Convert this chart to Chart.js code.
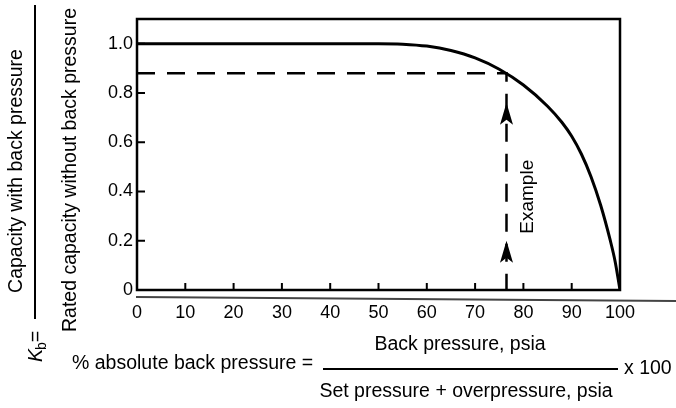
<!DOCTYPE html>
<html>
<head>
<meta charset="utf-8">
<script src="https://cdn.jsdelivr.net/npm/chart.js@4/dist/chart.umd.min.js"></script>
<style>
  html, body { margin: 0; padding: 0; background: #fff; }
  canvas { display: block; }
</style>
</head>
<body>
<canvas id="c" width="676" height="408"></canvas>
<script>
// ---- Data ----
const backPressurePct = [0, 10, 20, 30, 40, 50, 55, 60, 65, 70, 75, 80, 85, 88, 90, 92, 94, 96, 98, 99, 100];
const kbValues        = [1.0, 1.0, 1.0, 1.0, 1.0, 1.0, 0.998, 0.99, 0.972, 0.942, 0.896, 0.832, 0.746, 0.68, 0.624, 0.552, 0.46, 0.344, 0.2, 0.115, 0];
const xTickValues = [0, 10, 20, 30, 40, 50, 60, 70, 80, 90, 100];
const yTickValues = [0, 0.2, 0.4, 0.6, 0.8, 1.0];
const exampleX = 76.5;      // % absolute back pressure of the example
const exampleKb = 0.88;     // Kb read at the example
const arrowTips = [0.76, 0.2];  // Kb values where the arrowheads point
const yTitleTop = "Capacity with back pressure";
const yTitleBottom = "Rated capacity without back pressure";
const formulaLeft = "% absolute back pressure =";
const formulaNum = "Back pressure, psia";
const formulaDen = "Set pressure + overpressure, psia";
const formulaRight = "x 100";
const exampleLabel = "Example";

const FONT = '"Liberation Sans", Arial, Helvetica, sans-serif';

const decor = {
  id: 'decor',
  afterDraw(chart) {
    const ctx = chart.ctx;
    const a = chart.chartArea;
    const xs = chart.scales.x, ys = chart.scales.y;
    ctx.save();
    ctx.strokeStyle = '#000';
    ctx.fillStyle = '#000';

    // frame
    ctx.lineWidth = 2.5;
    ctx.strokeRect(a.left, a.top, a.right - a.left, a.bottom - a.top);

    // inward tick marks
    ctx.lineWidth = 2;
    ctx.beginPath();
    yTickValues.forEach(v => {
      const py = ys.getPixelForValue(v);
      ctx.moveTo(a.left, py); ctx.lineTo(a.left + 8, py);
    });
    xTickValues.forEach(v => {
      const px = xs.getPixelForValue(v);
      ctx.moveTo(px, a.bottom); ctx.lineTo(px, a.bottom - 7);
    });
    ctx.stroke();

    // long base line under the axis
    ctx.strokeStyle = '#444';
    ctx.lineWidth = 1.8;
    ctx.beginPath();
    ctx.moveTo(a.left - 1, a.bottom + 7);
    ctx.lineTo(chart.width, a.bottom + 11);
    ctx.stroke();
    ctx.strokeStyle = '#000';

    // arrowheads on the example line
    const ax = xs.getPixelForValue(exampleX);
    arrowTips.forEach(v => {
      const ty = ys.getPixelForValue(v);
      ctx.beginPath();
      ctx.moveTo(ax, ty);
      ctx.lineTo(ax + 6.5, ty + 22);
      ctx.lineTo(ax, ty + 17);
      ctx.lineTo(ax - 6.5, ty + 22);
      ctx.closePath();
      ctx.fill();
    });

    // "Example" label (rotated)
    ctx.save();
    ctx.translate(ax + 27, ys.getPixelForValue((arrowTips[0] + arrowTips[1]) / 2) + 25);
    ctx.rotate(-Math.PI / 2);
    ctx.font = '19px ' + FONT;
    ctx.textAlign = 'center';
    ctx.textBaseline = 'alphabetic';
    ctx.fillText(exampleLabel, 0, 0);
    ctx.restore();

    // Y title as a fraction: Kb = numerator / denominator
    ctx.save();
    ctx.font = '19.5px ' + FONT;
    ctx.textAlign = 'center';
    ctx.textBaseline = 'alphabetic';
    ctx.translate(22, 171);
    ctx.rotate(-Math.PI / 2);
    ctx.fillText(yTitleTop, 0, 0);
    ctx.restore();

    ctx.save();
    ctx.font = '19.5px ' + FONT;
    ctx.textAlign = 'center';
    ctx.textBaseline = 'alphabetic';
    ctx.translate(76, 170);
    ctx.rotate(-Math.PI / 2);
    ctx.fillText(yTitleBottom, 0, 0);
    ctx.restore();

    ctx.lineWidth = 2;
    ctx.beginPath();
    ctx.moveTo(35, 5); ctx.lineTo(35, 319);
    ctx.stroke();

    // K_b =
    ctx.save();
    ctx.translate(42, 362);
    ctx.rotate(-Math.PI / 2);
    ctx.textAlign = 'left';
    ctx.textBaseline = 'alphabetic';
    ctx.font = 'italic 19.5px ' + FONT;
    ctx.fillText('K', 0, 0);
    let w = ctx.measureText('K').width;
    ctx.font = '14px ' + FONT;
    ctx.fillText('b', w - 1, 4);
    w += ctx.measureText('b').width - 1;
    ctx.font = '19.5px ' + FONT;
    ctx.fillText('=', w, 0);
    ctx.restore();

    // Bottom formula
    ctx.font = '19.5px ' + FONT;
    ctx.textBaseline = 'middle';
    ctx.textAlign = 'left';
    ctx.fillText(formulaLeft, 72, 364);
    ctx.textAlign = 'center';
    ctx.fillText(formulaNum, 460, 345);
    ctx.fillText(formulaDen, 466, 392);
    ctx.textAlign = 'left';
    ctx.fillText(formulaRight, 624, 369);
    ctx.lineWidth = 2;
    ctx.beginPath();
    ctx.moveTo(323, 369); ctx.lineTo(618, 369);
    ctx.stroke();

    ctx.restore();
  }
};

new Chart(document.getElementById('c'), {
  type: 'line',
  data: {
    datasets: [
      {
        data: backPressurePct.map((x, i) => ({ x: x, y: kbValues[i] })),
        borderColor: '#000',
        borderWidth: 3,
        pointRadius: 0,
        cubicInterpolationMode: 'monotone',
        fill: false
      },
      {
        data: [{ x: 0, y: exampleKb }, { x: exampleX, y: exampleKb }, { x: exampleX, y: 0 }],
        borderColor: '#000',
        borderWidth: 2.5,
        borderDash: [18, 12],
        pointRadius: 0,
        tension: 0,
        fill: false
      }
    ]
  },
  options: {
    responsive: false,
    animation: false,
    devicePixelRatio: 1,
    layout: { padding: { top: 19, right: 56, left: 0, bottom: 0 } },
    plugins: { legend: { display: false }, tooltip: { enabled: false } },
    scales: {
      x: {
        type: 'linear',
        min: 0, max: 100,
        grid: { display: false, drawTicks: false },
        border: { display: false },
        afterFit: s => { s.height = 118; },
        afterBuildTicks: s => { s.ticks = xTickValues.map(v => ({ value: v })); },
        ticks: {
          padding: 12,
          color: '#000',
          font: { family: FONT, size: 18 },
          maxRotation: 0,
          autoSkip: false,
          callback: v => String(v)
        }
      },
      y: {
        type: 'linear',
        min: 0, max: 1.1,
        grid: { display: false, drawTicks: false },
        border: { display: false },
        afterFit: s => { s.width = 137; },
        afterBuildTicks: s => { s.ticks = yTickValues.map(v => ({ value: v })); },
        ticks: {
          padding: 4,
          color: '#000',
          font: { family: FONT, size: 18 },
          autoSkip: false,
          callback: v => (v === 0 ? '0' : v.toFixed(1))
        }
      }
    }
  },
  plugins: [decor]
});
</script>
</body>
</html>
